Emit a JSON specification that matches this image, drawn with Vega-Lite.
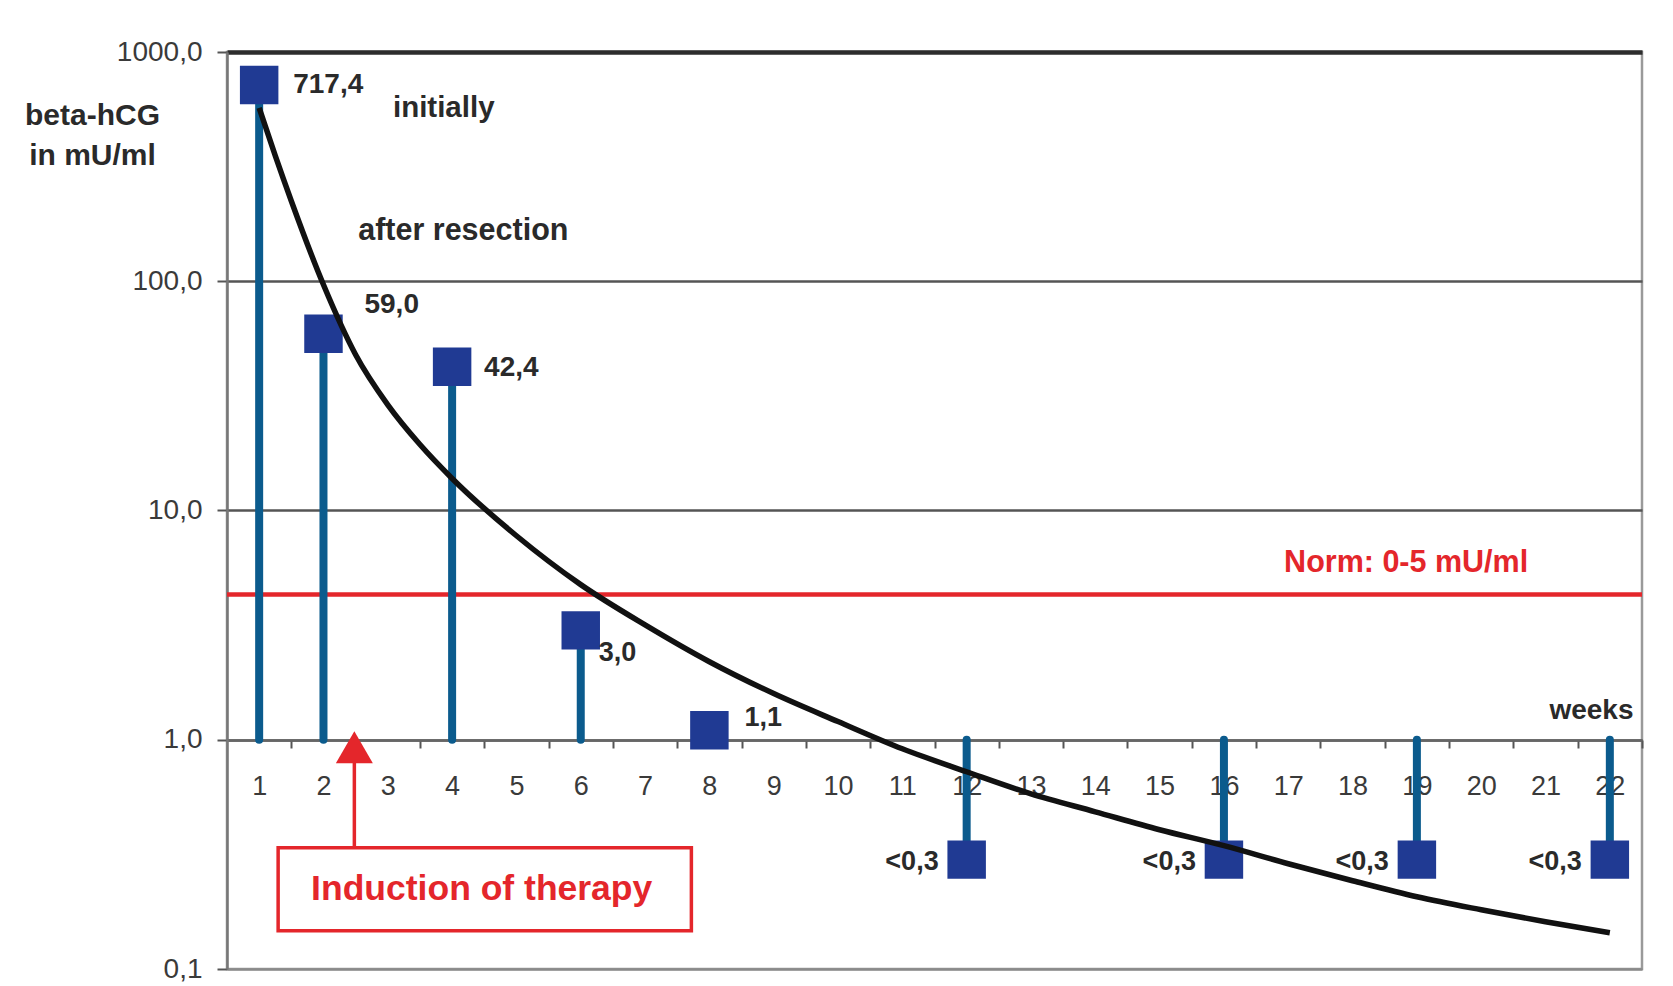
{
  "$schema": "https://vega.github.io/schema/vega-lite/v6.json",
  "width": 1415,
  "height": 917,
  "autosize": "none",
  "padding": {"left": 227, "top": 52, "right": 31, "bottom": 17},
  "background": "white",
  "config": {
    "font": "Liberation Sans",
    "view": {"stroke": "#9a9a9a", "strokeWidth": 2.5}
  },
  "data": {"values": [{}]},
  "datasets": {
    "measurements": [
      {"week": 1, "hcg": 717.4, "label": "717,4"},
      {"week": 2, "hcg": 59.0, "label": "59,0"},
      {"week": 4, "hcg": 42.4, "label": "42,4"},
      {"week": 6, "hcg": 3.0, "label": "3,0"},
      {"week": 8, "hcg": 1.1, "label": "1,1"},
      {"week": 12, "hcg": 0.3, "label": "<0,3"},
      {"week": 16, "hcg": 0.3, "label": "<0,3"},
      {"week": 19, "hcg": 0.3, "label": "<0,3"},
      {"week": 22, "hcg": 0.3, "label": "<0,3"}
    ],
    "trend": [
      {"week": 1.0, "hcg": 571},
      {"week": 1.25, "hcg": 353},
      {"week": 1.5, "hcg": 224},
      {"week": 2.0, "hcg": 96.5},
      {"week": 2.5, "hcg": 47.8},
      {"week": 3.0, "hcg": 28.9},
      {"week": 3.5, "hcg": 19.4},
      {"week": 4.0, "hcg": 13.8},
      {"week": 5.0, "hcg": 7.76},
      {"week": 6.0, "hcg": 4.75},
      {"week": 7.0, "hcg": 3.17},
      {"week": 8.0, "hcg": 2.19},
      {"week": 9.0, "hcg": 1.59},
      {"week": 10.0, "hcg": 1.2},
      {"week": 11.0, "hcg": 0.913},
      {"week": 12.0, "hcg": 0.725},
      {"week": 13.0, "hcg": 0.581},
      {"week": 14.0, "hcg": 0.485},
      {"week": 15.0, "hcg": 0.405},
      {"week": 16.0, "hcg": 0.345},
      {"week": 17.0, "hcg": 0.2878},
      {"week": 18.0, "hcg": 0.2427},
      {"week": 19.0, "hcg": 0.2066},
      {"week": 20.0, "hcg": 0.1813},
      {"week": 21.0, "hcg": 0.1608},
      {"week": 22.0, "hcg": 0.1439}
    ]
  },
  "layer": [
    {
      "mark": {"type": "rule", "color": "#e4262b", "strokeWidth": 4.5},
      "encoding": {
        "y": {
          "datum": 4.3,
          "type": "quantitative",
          "scale": {"type": "log", "domain": [0.1, 1000]},
          "axis": {
            "values": [0.1, 1, 10, 100, 1000],
            "labelExpr": "replace(format(datum.value, '.1f'), '.', ',')",
            "labelFontSize": 28,
            "labelColor": "#3a3a3a",
            "labelPadding": 15,
            "tickSize": 10,
            "tickColor": "#555555",
            "tickWidth": 2,
            "domainColor": "#777777",
            "domainWidth": 2.5,
            "grid": true,
            "gridColor": {
              "condition": [
                {"test": "datum.value === 1000", "value": "#2d2d2d"},
                {"test": "datum.value === 0.1", "value": "#8a8a8a"}
              ],
              "value": "#555555"
            },
            "gridWidth": {
              "condition": {"test": "datum.value === 1000", "value": 4.5},
              "value": 2.5
            },
            "title": ["beta-hCG", "in mU/ml"],
            "titleAngle": 0,
            "titleAlign": "center",
            "titleBaseline": "alphabetic",
            "titleX": -135,
            "titleY": 72,
            "titleFontSize": 30,
            "titleFontWeight": "bold",
            "titleColor": "#2a2a2a",
            "titleLineHeight": 40
          }
        }
      }
    },
    {
      "data": {"name": "measurements"},
      "mark": {"type": "rule", "color": "#0b5b8d", "strokeWidth": 8, "strokeCap": "round"},
      "encoding": {
        "x": {
          "field": "week",
          "type": "quantitative",
          "scale": {"domain": [0.5, 22.5], "nice": false, "zero": false},
          "axis": {
            "orient": "bottom",
            "offset": -229,
            "values": [1.5, 2.5, 3.5, 4.5, 5.5, 6.5, 7.5, 8.5, 9.5, 10.5, 11.5, 12.5, 13.5, 14.5, 15.5, 16.5, 17.5, 18.5, 19.5, 20.5, 21.5, 22.5],
            "labelExpr": "format(datum.value - 0.5, 'd')",
            "labelOffset": -32.16,
            "labelFontSize": 27,
            "labelColor": "#3a3a3a",
            "labelPadding": 25,
            "labelOverlap": false,
            "labelFlush": false,
            "labelBound": false,
            "tickSize": 8,
            "tickColor": "#555555",
            "tickWidth": 2,
            "domainColor": "#666666",
            "domainWidth": 2.5,
            "grid": false,
            "title": "weeks",
            "titleAlign": "right",
            "titleBaseline": "alphabetic",
            "titleX": 1406,
            "titleY": -22,
            "titleFontSize": 28,
            "titleFontWeight": "bold",
            "titleColor": "#2a2a2a"
          }
        },
        "y": {"field": "hcg", "type": "quantitative"},
        "y2": {"datum": 1}
      }
    },
    {
      "data": {"name": "measurements"},
      "mark": {"type": "point", "shape": "square", "filled": true, "size": 1480, "color": "#203a93", "opacity": 1},
      "encoding": {
        "x": {"field": "week", "type": "quantitative"},
        "y": {"field": "hcg", "type": "quantitative"}
      }
    },
    {
      "data": {"name": "trend"},
      "mark": {"type": "line", "color": "#111111", "strokeWidth": 5.5, "interpolate": "monotone"},
      "encoding": {
        "x": {"field": "week", "type": "quantitative"},
        "y": {"field": "hcg", "type": "quantitative"}
      }
    },
    {
      "data": {"name": "measurements"},
      "transform": [{"filter": "datum.week === 1"}],
      "mark": {"type": "text", "align": "left", "baseline": "alphabetic", "dx": 34, "dy": 8, "fontSize": 28, "fontWeight": "bold", "color": "#2a2a2a"},
      "encoding": {
        "x": {"field": "week", "type": "quantitative"},
        "y": {"field": "hcg", "type": "quantitative"},
        "text": {"field": "label"}
      }
    },
    {
      "data": {"name": "measurements"},
      "transform": [{"filter": "datum.week === 2"}],
      "mark": {"type": "text", "align": "left", "baseline": "alphabetic", "dx": 41, "dy": -21, "fontSize": 28, "fontWeight": "bold", "color": "#2a2a2a"},
      "encoding": {
        "x": {"field": "week", "type": "quantitative"},
        "y": {"field": "hcg", "type": "quantitative"},
        "text": {"field": "label"}
      }
    },
    {
      "data": {"name": "measurements"},
      "transform": [{"filter": "datum.week === 4"}],
      "mark": {"type": "text", "align": "left", "baseline": "alphabetic", "dx": 32, "dy": 9, "fontSize": 28, "fontWeight": "bold", "color": "#2a2a2a"},
      "encoding": {
        "x": {"field": "week", "type": "quantitative"},
        "y": {"field": "hcg", "type": "quantitative"},
        "text": {"field": "label"}
      }
    },
    {
      "data": {"name": "measurements"},
      "transform": [{"filter": "datum.week === 6"}],
      "mark": {"type": "text", "align": "left", "baseline": "alphabetic", "dx": 18, "dy": 31, "fontSize": 27, "fontWeight": "bold", "color": "#2a2a2a"},
      "encoding": {
        "x": {"field": "week", "type": "quantitative"},
        "y": {"field": "hcg", "type": "quantitative"},
        "text": {"field": "label"}
      }
    },
    {
      "data": {"name": "measurements"},
      "transform": [{"filter": "datum.week === 8"}],
      "mark": {"type": "text", "align": "left", "baseline": "alphabetic", "dx": 35, "dy": -4, "fontSize": 27, "fontWeight": "bold", "color": "#2a2a2a"},
      "encoding": {
        "x": {"field": "week", "type": "quantitative"},
        "y": {"field": "hcg", "type": "quantitative"},
        "text": {"field": "label"}
      }
    },
    {
      "data": {"name": "measurements"},
      "transform": [{"filter": "datum.week >= 12"}],
      "mark": {"type": "text", "align": "right", "baseline": "alphabetic", "dx": -28, "dy": 10, "fontSize": 27, "fontWeight": "bold", "color": "#2a2a2a"},
      "encoding": {
        "x": {"field": "week", "type": "quantitative"},
        "y": {"field": "hcg", "type": "quantitative"},
        "text": {"field": "label"}
      }
    },
    {
      "mark": {"type": "text", "align": "left", "baseline": "alphabetic", "fontSize": 29.5, "fontWeight": "bold", "color": "#2a2a2a"},
      "encoding": {
        "x": {"datum": 3.08, "type": "quantitative"},
        "y": {"datum": 522, "type": "quantitative"},
        "text": {"value": "initially"}
      }
    },
    {
      "mark": {"type": "text", "align": "left", "baseline": "alphabetic", "fontSize": 30.5, "fontWeight": "bold", "color": "#2a2a2a"},
      "encoding": {
        "x": {"datum": 2.54, "type": "quantitative"},
        "y": {"datum": 152, "type": "quantitative"},
        "text": {"value": "after resection"}
      }
    },
    {
      "mark": {"type": "text", "align": "right", "baseline": "alphabetic", "fontSize": 30.5, "fontWeight": "bold", "color": "#e4262b"},
      "encoding": {
        "x": {"datum": 20.73, "type": "quantitative"},
        "y": {"datum": 5.41, "type": "quantitative"},
        "text": {"value": "Norm: 0-5 mU/ml"}
      }
    },
    {
      "mark": {"type": "rect", "fill": "white", "stroke": "#e4262b", "strokeWidth": 3.5},
      "encoding": {
        "x": {"datum": 1.295, "type": "quantitative"},
        "x2": {"datum": 7.72},
        "y": {"datum": 0.338, "type": "quantitative"},
        "y2": {"datum": 0.147}
      }
    },
    {
      "mark": {"type": "text", "align": "center", "baseline": "alphabetic", "fontSize": 35.5, "fontWeight": "bold", "color": "#e4262b"},
      "encoding": {
        "x": {"datum": 4.46, "type": "quantitative"},
        "y": {"datum": 0.2, "type": "quantitative"},
        "text": {"value": "Induction of therapy"}
      }
    },
    {
      "mark": {"type": "rule", "color": "#e4262b", "strokeWidth": 3.5},
      "encoding": {
        "x": {"datum": 2.48, "type": "quantitative"},
        "y": {"datum": 0.338, "type": "quantitative"},
        "y2": {"datum": 0.8}
      }
    },
    {
      "mark": {"type": "point", "shape": "triangle-up", "filled": true, "size": 1369, "color": "#e4262b", "opacity": 1},
      "encoding": {
        "x": {"datum": 2.48, "type": "quantitative"},
        "y": {"datum": 0.927, "type": "quantitative"}
      }
    }
  ]
}
